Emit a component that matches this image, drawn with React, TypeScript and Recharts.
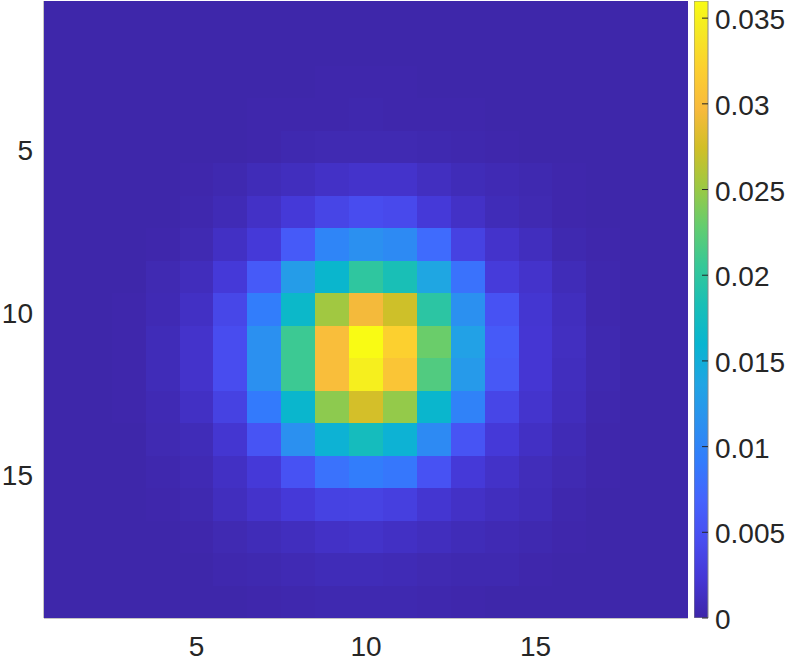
import { ScatterChart, Scatter, XAxis, YAxis, BarChart, Bar } from "recharts";

// grid indices (imagesc style, 1..19)
const columns = [1, 2, 3, 4, 5, 6, 7, 8, 9, 10, 11, 12, 13, 14, 15, 16, 17, 18, 19];
const rowIndex = [1, 2, 3, 4, 5, 6, 7, 8, 9, 10, 11, 12, 13, 14, 15, 16, 17, 18, 19];

// intensity per cell, in units of 1e-4 (row 1 at the top)
const intensity = [
  [1, 1, 1, 1, 1, 1, 1, 1, 1, 1, 1, 1, 1, 1, 1, 1, 1, 1, 1],
  [1, 1, 1, 1, 1, 1, 1, 1, 1, 1, 1, 1, 1, 1, 1, 1, 1, 1, 1],
  [1, 1, 1, 1, 1, 1, 1, 1, 2, 2, 2, 1, 1, 1, 1, 1, 1, 1, 1],
  [1, 1, 1, 1, 1, 1, 2, 2, 2, 3, 2, 2, 2, 1, 1, 1, 1, 1, 1],
  [1, 1, 1, 1, 1, 1, 2, 4, 5, 5, 5, 4, 3, 2, 1, 1, 1, 1, 1],
  [1, 1, 1, 1, 2, 4, 8, 11, 15, 18, 18, 12, 8, 6, 4, 2, 1, 1, 1],
  [1, 1, 1, 1, 3, 7, 15, 25, 37, 45, 42, 25, 15, 8, 5, 2, 1, 1, 1],
  [1, 1, 1, 2, 5, 14, 25, 59, 101, 113, 107, 76, 34, 18, 11, 4, 2, 1, 1],
  [1, 1, 1, 5, 10, 25, 59, 127, 163, 200, 183, 138, 82, 27, 18, 8, 3, 1, 1],
  [1, 1, 2, 6, 14, 39, 93, 166, 253, 295, 273, 197, 113, 51, 21, 11, 3, 1, 1],
  [1, 1, 2, 8, 18, 45, 113, 208, 301, 360, 321, 231, 132, 59, 22, 12, 4, 1, 1],
  [1, 1, 2, 8, 18, 45, 113, 208, 301, 349, 309, 219, 124, 57, 22, 11, 4, 1, 1],
  [1, 1, 2, 6, 14, 34, 90, 163, 245, 276, 248, 163, 98, 38, 19, 10, 3, 1, 1],
  [1, 1, 1, 5, 8, 21, 53, 113, 155, 177, 155, 107, 53, 25, 14, 7, 2, 1, 1],
  [1, 1, 1, 3, 6, 14, 25, 51, 82, 93, 87, 51, 25, 16, 9, 5, 2, 1, 1],
  [1, 1, 1, 2, 4, 11, 18, 25, 34, 35, 31, 21, 15, 11, 8, 3, 1, 1, 1],
  [1, 1, 1, 1, 2, 5, 8, 11, 15, 17, 14, 11, 8, 6, 4, 2, 1, 1, 1],
  [1, 1, 1, 1, 1, 3, 4, 6, 8, 8, 7, 5, 4, 4, 2, 1, 1, 1, 1],
  [1, 1, 1, 1, 1, 1, 2, 3, 4, 4, 4, 3, 2, 1, 1, 1, 1, 1, 1],
];

const xTicks = [5, 10, 15];
const yTicks = [5, 10, 15];
const colorTicks = [0, 0.005, 0.01, 0.015, 0.02, 0.025, 0.03, 0.035];

const cells = intensity.flatMap((row, ri) =>
  row.map((v, ci) => ({ x: columns[ci], y: rowIndex[ri], v: v * 1e-4 }))
);
const cMax = Math.max(...cells.map((c) => c.v));

// parula colormap anchors (position, colour)
const PARULA: [number, string][] = [
  [0, "#3E26A8"], [4, "#4537D5"], [8, "#484DF0"], [12, "#4563FD"],
  [16, "#327CFC"], [20, "#2B91EF"], [24, "#20A5E3"], [28, "#08B5D0"],
  [32, "#19BFB6"], [36, "#37C897"], [40, "#64CD6F"], [44, "#9DC943"],
  [48, "#D1BF27"], [52, "#F8BA3D"], [56, "#FCCF30"], [60, "#F5E924"],
  [63, "#F9FB14"],
];

const hexToRgb = (h: string) => [1, 3, 5].map((i) => parseInt(h.slice(i, i + 2), 16));

function parula(t: number) {
  const p = Math.max(0, Math.min(1, t)) * 63;
  for (let i = 0; i < PARULA.length - 1; i++) {
    const [p0, c0] = PARULA[i];
    const [p1, c1] = PARULA[i + 1];
    if (p <= p1) {
      const f = (p - p0) / (p1 - p0);
      const a = hexToRgb(c0);
      const b = hexToRgb(c1);
      const rgb = a.map((v, k) => Math.round(v + (b[k] - v) * f));
      return `rgb(${rgb.join(",")})`;
    }
  }
  return PARULA[PARULA.length - 1][1];
}

const FONT = "'Liberation Sans', Arial, Helvetica, sans-serif";
const TEXT = "#262626";
const FRAME = "#8a8a8a";
const TICK = "#262626";

const PLOT_L = 44;
const PLOT_R = 688;
const PLOT_T = 1;
const PLOT_B = 618;
const CELL_W = (PLOT_R - PLOT_L) / columns.length;
const CELL_H = (PLOT_B - PLOT_T) / rowIndex.length;

const renderCell = (props: any) => {
  const { cx, cy, payload } = props;
  const x0 = Math.round(cx - CELL_W / 2);
  const y0 = Math.round(cy - CELL_H / 2);
  const x1 = Math.round(cx + CELL_W / 2);
  const y1 = Math.round(cy + CELL_H / 2);
  return (
    <rect
      x={x0}
      y={y0}
      width={x1 - x0}
      height={y1 - y0}
      fill={parula(payload.v / cMax)}
      shapeRendering="crispEdges"
    />
  );
};

const BottomTick = (props: any) => (
  <text x={props.x} y={props.y} dy="0.71em" textAnchor="middle" fontSize={28} fill={TEXT} fontFamily={FONT}>
    {props.payload.value}
  </text>
);

const LeftTick = (props: any) => (
  <text x={props.x} y={props.y + 3} dy="0.36em" textAnchor="end" fontSize={28} fill={TEXT} fontFamily={FONT}>
    {props.payload.value}
  </text>
);

const BarTick = (props: any) => (
  <text x={props.x} y={props.y + 1} dy="0.36em" textAnchor="start" fontSize={28} fill={TEXT} fontFamily={FONT}>
    {String(props.payload.value)}
  </text>
);

const colorbarData = [{ k: "cb", v: cMax }];

export default function App() {
  return (
    <div style={{ position: "absolute", left: 0, top: 0, width: 789, height: 661, background: "#fff" }}>
      <div style={{ position: "absolute", left: 0, top: 0 }}>
        <ScatterChart width={700} height={661} margin={{ top: PLOT_T, right: 700 - PLOT_R, bottom: 0, left: 0 }}>
          <Scatter data={cells} xAxisId="b" yAxisId="l" dataKey="v" shape={renderCell} isAnimationActive={false} />
          <XAxis
            xAxisId="b"
            type="number"
            dataKey="x"
            domain={[0.5, 19.5]}
            allowDataOverflow
            ticks={xTicks}
            interval={0}
            height={661 - PLOT_B}
            tickSize={-6}
            tickMargin={24}
            tick={<BottomTick />}
            axisLine={{ stroke: FRAME }}
            tickLine={{ stroke: TICK }}
          />
          <XAxis
            xAxisId="t"
            orientation="top"
            type="number"
            domain={[0.5, 19.5]}
            allowDataOverflow
            ticks={xTicks}
            interval={0}
            height={0}
            tickSize={-6}
            tick={false}
            axisLine={{ stroke: FRAME }}
            tickLine={{ stroke: TICK }}
          />
          <YAxis
            yAxisId="l"
            type="number"
            dataKey="y"
            domain={[0.5, 19.5]}
            allowDataOverflow
            reversed
            ticks={yTicks}
            interval={0}
            width={PLOT_L}
            tickSize={-6}
            tickMargin={17}
            tick={<LeftTick />}
            axisLine={{ stroke: FRAME }}
            tickLine={{ stroke: TICK }}
          />
          <YAxis
            yAxisId="r"
            orientation="right"
            type="number"
            domain={[0.5, 19.5]}
            allowDataOverflow
            reversed
            ticks={yTicks}
            interval={0}
            width={0}
            tickSize={-6}
            tick={false}
            axisLine={{ stroke: FRAME }}
            tickLine={{ stroke: TICK }}
          />
        </ScatterChart>
      </div>
      <div style={{ position: "absolute", left: 694, top: 0 }}>
        <BarChart
          width={95}
          height={661}
          data={colorbarData}
          margin={{ top: PLOT_T, right: 0, bottom: 661 - PLOT_B, left: 0 }}
          barCategoryGap={0}
          barGap={0}
        >
          <defs>
            <linearGradient id="parulaBar" x1="0" y1="1" x2="0" y2="0">
              {PARULA.map(([p, c]) => (
                <stop key={p} offset={p / 63} stopColor={c} />
              ))}
            </linearGradient>
          </defs>
          <XAxis dataKey="k" hide />
          <YAxis
            orientation="right"
            type="number"
            domain={[0, cMax]}
            allowDataOverflow
            ticks={colorTicks}
            interval={0}
            width={81}
            tickSize={-6}
            tickMargin={13}
            tick={<BarTick />}
            axisLine={false}
            tickLine={{ stroke: TICK }}
          />
          <Bar dataKey="v" fill="url(#parulaBar)" stroke={FRAME} strokeWidth={1} isAnimationActive={false} />
        </BarChart>
      </div>
    </div>
  );
}
